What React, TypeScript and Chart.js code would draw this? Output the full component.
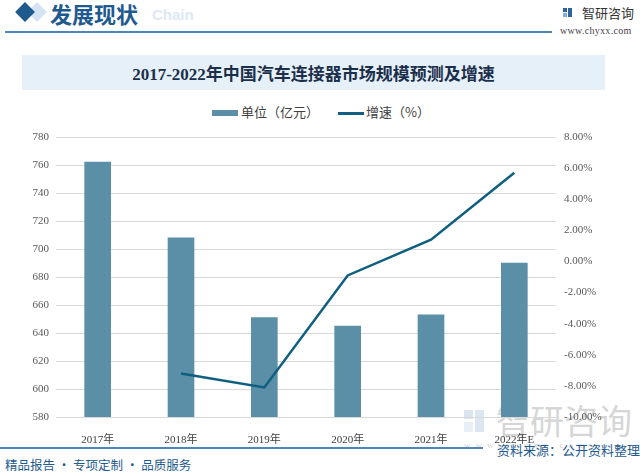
import React, { useEffect, useRef } from "react";
import { Chart, registerables } from "chart.js";

Chart.register(...registerables);

const categories = ["2017年", "2018年", "2019年", "2020年", "2021年", "2022年E"];
const marketSize = [762, 708, 651, 645, 653, 690];
const growthRate: (number | null)[] = [null, -7.2, -8.1, -0.9, 1.4, 5.7];
const leftTicks = { min: 580, max: 780, step: 20 };
const rightTicks = { min: -10, max: 8, step: 2 };

const BAR_COLOR = "#5b8fa7";
const LINE_COLOR = "#0f5f80";
const DARK_BLUE = "#1f5a8f";
const CJK = '"Liberation Serif", "DejaVu Serif", "Noto Sans CJK SC", serif';

export default function App() {
  const ref = useRef<HTMLCanvasElement | null>(null);

  useEffect(() => {
    if (!ref.current) return;
    const chart = new Chart(ref.current, {
      type: "bar",
      data: {
        labels: categories,
        datasets: [
          {
            type: "line",
            label: "增速（%）",
            data: growthRate,
            yAxisID: "y1",
            borderColor: LINE_COLOR,
            backgroundColor: LINE_COLOR,
            borderWidth: 2.5,
            pointRadius: 0,
            tension: 0,
            order: 1,
          } as any,
          {
            type: "bar",
            label: "单位（亿元）",
            data: marketSize,
            yAxisID: "y",
            backgroundColor: BAR_COLOR,
            barThickness: 26,
            order: 2,
          } as any,
        ],
      },
      options: {
        responsive: false,
        animation: false,
        layout: { padding: { top: 137, left: 0, right: 0, bottom: 0 } },
        plugins: { legend: { display: false }, tooltip: { enabled: false } },
        scales: {
          x: {
            grid: { display: false },
            border: { display: false },
            ticks: {
              color: "#404040",
              font: { size: 11, family: CJK },
              padding: 9,
              maxRotation: 0,
            },
            afterFit: (s: any) => {
              s.height = 57;
            },
          },
          y: {
            position: "left",
            min: leftTicks.min,
            max: leftTicks.max,
            ticks: {
              stepSize: leftTicks.step,
              color: "#595959",
              font: { size: 11, family: CJK },
              padding: 7,
            },
            grid: { color: "#d9d9d9", drawTicks: false, lineWidth: 1 },
            border: { display: false },
            afterFit: (s: any) => {
              s.width = 56;
            },
          },
          y1: {
            position: "right",
            min: rightTicks.min,
            max: rightTicks.max,
            ticks: {
              stepSize: rightTicks.step,
              color: "#595959",
              font: { size: 11, family: CJK },
              padding: 8,
              callback: (v: any) => Number(v).toFixed(2) + "%",
            },
            grid: { display: false, drawTicks: false },
            border: { display: false },
            afterFit: (s: any) => {
              s.width = 84;
            },
          },
        },
      },
    });
    return () => chart.destroy();
  }, []);

  const abs = (o: React.CSSProperties): React.CSSProperties => ({ position: "absolute", ...o });

  return (
    <div
      style={{
        position: "fixed",
        left: 0,
        top: 0,
        width: 640,
        height: 474,
        background: "#ffffff",
        overflow: "hidden",
        fontFamily: '"Noto Sans CJK SC", sans-serif',
      }}
    >
      {/* header */}
      <div
        style={abs({
          left: 30,
          top: 5,
          width: 14,
          height: 14,
          background: "#d5e4f2",
          transform: "rotate(45deg)",
        })}
      />
      <div
        style={abs({
          left: 18,
          top: 5,
          width: 14,
          height: 14,
          background: DARK_BLUE,
          transform: "rotate(45deg)",
        })}
      />
      <div
        style={abs({
          left: 50,
          top: -1,
          fontSize: 22,
          fontWeight: 700,
          color: DARK_BLUE,
          lineHeight: "28px",
          fontFamily: '"Noto Sans CJK SC", sans-serif',
        })}
      >
        发展现状
      </div>
      <div
        style={abs({
          left: 152,
          top: 6,
          fontSize: 15,
          fontWeight: 700,
          color: "#dce9f4",
          fontFamily: "Arial, Liberation Sans, sans-serif",
        })}
      >
        Chain
      </div>
      <div style={abs({ left: 5, top: 31, width: 547, height: 2, background: "#4d86bd" })} />
      {/* logo */}
      <div style={abs({ left: 563, top: 8, width: 4, height: 4, background: "#2f62a0" })} />
      <div style={abs({ left: 568, top: 8, width: 4, height: 9, background: "#2f62a0" })} />
      <div style={abs({ left: 563, top: 13, width: 4, height: 4, background: "#7fb0de" })} />
      <div
        style={abs({
          left: 582,
          top: 3,
          fontSize: 13,
          color: "#333",
          lineHeight: "20px",
        })}
      >
        智研咨询
      </div>
      <div
        style={abs({
          left: 560,
          top: 25,
          fontSize: 10,
          color: "#444",
          fontFamily: '"Liberation Serif", serif',
          letterSpacing: 0.3,
        })}
      >
        www.chyxx.com
      </div>
      {/* title box */}
      <div
        style={abs({
          left: 22,
          top: 55,
          width: 583,
          height: 35,
          background: "#e6f0f9",
          display: "flex",
          alignItems: "center",
          justifyContent: "center",
          fontSize: 17,
          fontWeight: 700,
          color: "#1b2f4a",
          fontFamily: '"Liberation Serif", "Noto Sans CJK SC", serif',
        })}
      >
        2017-2022年中国汽车连接器市场规模预测及增速
      </div>
      {/* legend */}
      <div style={abs({ left: 212, top: 110, width: 26, height: 6, background: BAR_COLOR })} />
      <div style={abs({ left: 241, top: 103, fontSize: 13, color: "#404040", lineHeight: "18px" })}>
        单位（亿元）
      </div>
      <div style={abs({ left: 338, top: 112, width: 26, height: 2.5, background: LINE_COLOR })} />
      <div style={abs({ left: 366, top: 103, fontSize: 13, color: "#404040", lineHeight: "18px" })}>
        增速（%）
      </div>
      {/* watermark */}
      <div style={abs({ left: 464, top: 410, width: 9, height: 9, background: "#dbe6f0" })} />
      <div style={abs({ left: 475, top: 410, width: 9, height: 22, background: "#dbe6f0" })} />
      <div style={abs({ left: 464, top: 422, width: 9, height: 10, background: "#e8eff6" })} />
      <div
        style={abs({
          left: 496,
          top: 400,
          fontSize: 34,
          color: "#d6d6d6",
          lineHeight: "40px",
        })}
      >
        智研咨询
      </div>
      <div
        style={abs({
          left: 464,
          top: 440,
          fontSize: 9,
          color: "#d0d0d0",
          letterSpacing: 5,
          fontFamily: '"Liberation Serif", serif',
        })}
      >
        www.chyxx.com
      </div>
      {/* footer */}
      <div style={abs({ left: 0, top: 447, width: 483, height: 2, background: "#4d86bd" })} />
      <div
        style={abs({
          left: 497,
          top: 441,
          fontSize: 13,
          color: DARK_BLUE,
          lineHeight: "18px",
          background: "transparent",
        })}
      >
        资料来源：公开资料整理
      </div>
      <div
        style={abs({
          left: 5,
          top: 456,
          fontSize: 12.5,
          color: DARK_BLUE,
          lineHeight: "18px",
        })}
      >
        精品报告 · 专项定制 · 品质服务
      </div>
      <canvas ref={ref} width={640} height={474} style={abs({ left: 0, top: 0 })} />
    </div>
  );
}
